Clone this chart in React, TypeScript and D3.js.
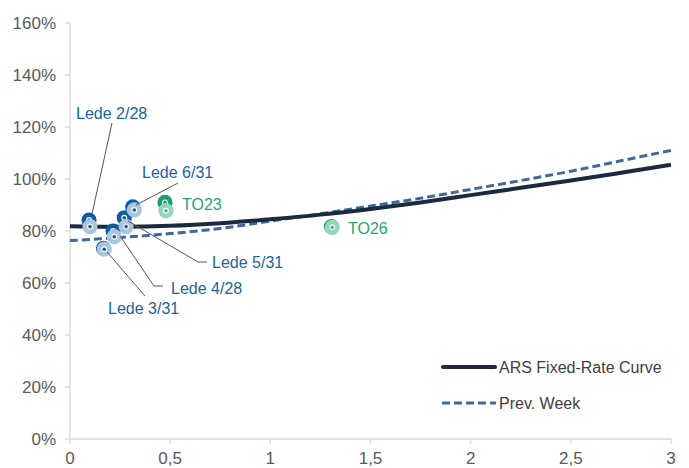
import React from "react";
import * as d3 from "d3";

// Fixed-rate curve, current and previous week (yield vs. years to maturity)
const curveYears = [0, 0.25, 0.5, 0.75, 1, 1.25, 1.5, 1.75, 2, 2.25, 2.5, 2.75, 3];
const curveNow = [81.8, 81.6, 82.0, 83.0, 84.5, 86.3, 88.5, 91.0, 93.8, 96.6, 99.4, 102.4, 105.5];
const curvePrev = [76.3, 77.5, 79.0, 81.0, 83.8, 86.6, 89.6, 92.6, 96.0, 99.4, 103.0, 107.0, 111.0];

// Bonds: name, years now, yield now, years prev week, yield prev week
const bondNames = ["Lede 2/28", "Lede 3/31", "Lede 4/28", "Lede 5/31", "Lede 6/31", "TO23", "TO26"];
const bondYearsNow = [0.095, 0.167, 0.215, 0.271, 0.313, 0.474, 1.305];
const bondYieldNow = [84.2, 73.3, 80.0, 85.1, 89.3, 91.0, 81.7];
const bondYearsPrev = [0.1, 0.171, 0.221, 0.28, 0.321, 0.479, 1.309];
const bondYieldPrev = [81.7, 73.0, 77.8, 81.7, 88.1, 87.8, 81.4];
const bondIsTO = [false, false, false, false, false, true, true];

const yTicks = [0, 20, 40, 60, 80, 100, 120, 140, 160];
const xTicks = [0, 0.5, 1, 1.5, 2, 2.5, 3];
const legendLabels = ["ARS Fixed-Rate Curve", "Prev. Week"];

const W = 689;
const H = 468;
const x = d3.scaleLinear().domain([0, 3]).range([70, 671]);
const y = d3.scaleLinear().domain([0, 160]).range([439, 23]);

const C = {
  axis: "#d9d9d9",
  tick: "#595959",
  solid: "#1b2a41",
  dashed: "#3e6a99",
  blue: "#0f5d9e",
  blueLight: "#a9c6de",
  green: "#17a06c",
  greenLight: "#93d6b8",
  labelBlue: "#1b64a3",
  labelGreen: "#1ea673",
  leader: "#555555",
};

const font = "'Liberation Sans', Arial, sans-serif";

// Label placement: text anchor point and leader path (pixels)
type LabelSpec = { tx: number; ty: number; leader: [number, number][] | null };
const labelSpecs: LabelSpec[] = [
  { tx: 76, ty: 119, leader: [[112, 123], [92, 214]] },
  { tx: 108, ty: 314, leader: [[145, 296], [107, 252]] },
  { tx: 171, ty: 294, leader: [[163, 286], [154, 286], [120, 236]] },
  { tx: 212, ty: 268, leader: [[207, 262], [198, 262], [128, 221]] },
  { tx: 142, ty: 178, leader: [[178, 183], [136, 205]] },
  { tx: 182, ty: 210, leader: null },
  { tx: 348, ty: 234, leader: null },
];

function Marker({ cx, cy, ring, dot }: { cx: number; cy: number; ring: string; dot: string }) {
  return (
    <g>
      <circle cx={cx} cy={cy} r={5.3} fill="#f4f8fb" stroke={ring} strokeWidth={4.6} />
      <circle cx={cx} cy={cy} r={1.8} fill={dot} />
    </g>
  );
}

export default function App() {
  const line = d3
    .line<number>()
    .x((_, i) => x(curveYears[i]))
    .y((d) => y(d))
    .curve(d3.curveCatmullRom);

  return (
    <div style={{ position: "absolute", left: 0, top: 0 }}>
      <svg width={W} height={H} style={{ display: "block", fontFamily: font }}>
        <rect width={W} height={H} fill="#ffffff" />

        {/* axes */}
        <line x1={70} x2={70} y1={y(160)} y2={y(0)} stroke={C.axis} strokeWidth={1.3} />
        <line x1={70} x2={671} y1={y(0)} y2={y(0)} stroke={C.axis} strokeWidth={1.3} />
        {yTicks.map((t) => (
          <g key={"y" + t}>
            <line x1={65} x2={70} y1={y(t)} y2={y(t)} stroke={C.axis} strokeWidth={1.3} />
            <text x={56} y={y(t) + 6} textAnchor="end" fontSize={17} fill={C.tick}>
              {t + "%"}
            </text>
          </g>
        ))}
        {xTicks.map((t) => (
          <g key={"x" + t}>
            <line x1={x(t)} x2={x(t)} y1={y(0)} y2={y(0) + 5} stroke={C.axis} strokeWidth={1.3} />
            <text x={x(t)} y={464} textAnchor="middle" fontSize={17} fill={C.tick}>
              {String(t).replace(".", ",")}
            </text>
          </g>
        ))}

        {/* curves */}
        <path d={line(curvePrev) || ""} fill="none" stroke={C.dashed} strokeWidth={3} strokeDasharray="8 4" />
        <path d={line(curveNow) || ""} fill="none" stroke={C.solid} strokeWidth={4} />

        {/* current bonds */}
        {bondNames.map((n, i) => (
          <Marker
            key={"n" + n}
            cx={x(bondYearsNow[i])}
            cy={y(bondYieldNow[i])}
            ring={bondIsTO[i] ? C.green : C.blue}
            dot={bondIsTO[i] ? C.green : C.blue}
          />
        ))}
        {/* previous week bonds */}
        {bondNames.map((n, i) => (
          <Marker
            key={"p" + n}
            cx={x(bondYearsPrev[i])}
            cy={y(bondYieldPrev[i])}
            ring={bondIsTO[i] ? C.greenLight : C.blueLight}
            dot={bondIsTO[i] ? "#4fb58d" : C.blue}
          />
        ))}

        {/* labels */}
        {bondNames.map((n, i) => {
          const s = labelSpecs[i];
          return (
            <g key={"l" + n}>
              {s.leader && (
                <polyline
                  points={s.leader.map((p) => p.join(",")).join(" ")}
                  fill="none"
                  stroke={C.leader}
                  strokeWidth={1}
                />
              )}
              <text x={s.tx} y={s.ty} fontSize={16} fill={bondIsTO[i] ? C.labelGreen : C.labelBlue}>
                {n}
              </text>
            </g>
          );
        })}

        {/* legend */}
        <line x1={443} x2={495} y1={367} y2={367} stroke={C.solid} strokeWidth={4} strokeLinecap="round" />
        <text x={499} y={373} fontSize={16} fill="#404040">
          {legendLabels[0]}
        </text>
        <line x1={442} x2={496} y1={403} y2={403} stroke={C.dashed} strokeWidth={3} strokeDasharray="8 4" />
        <text x={499} y={409} fontSize={16} fill="#404040">
          {legendLabels[1]}
        </text>
      </svg>
    </div>
  );
}
